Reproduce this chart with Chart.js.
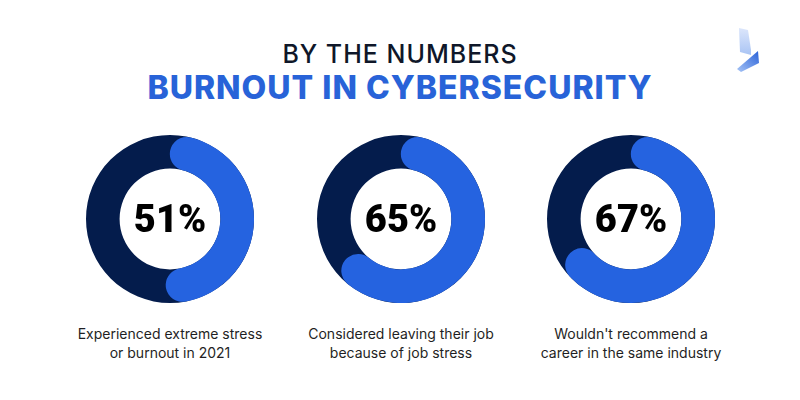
<!DOCTYPE html>
<html>
<head>
<meta charset="utf-8">
<script src="https://cdn.jsdelivr.net/npm/chart.js@4.4.1/dist/chart.umd.min.js"></script>
<style>
  body { margin: 0; background: #fff; }
  #page { position: relative; width: 800px; height: 400px; overflow: hidden; background: #fff; font-family: Inter, "Noto Sans", sans-serif; }
  .title1 { position: absolute; left: 0; width: 800px; top: 42px; text-align: center; font-size: 25px; line-height: 25px; font-weight: 500; color: #0f1729; letter-spacing: 1px; }
  .title2 { position: absolute; left: 0; width: 800px; top: 72px; text-align: center; font-size: 32px; line-height: 32px; font-weight: 800; color: #2863d8; letter-spacing: 1px; }
  .donut { position: absolute; width: 168px; height: 168px; }
  .pct { position: absolute; left: 0; top: 0; width: 168px; height: 168px; display: flex; align-items: center; justify-content: center; font-family: Roboto, Inter, sans-serif; font-size: 38px; line-height: 38px; font-weight: 900; color: #000; }
  .cap { position: absolute; width: 240px; text-align: center; font-size: 14px; line-height: 19px; color: #1f1f24; top: 324px; }
  #logo { position: absolute; left: 728px; top: 24px; }
</style>
</head>
<body>
<div id="page">
  <div class="title1">BY THE NUMBERS</div>
  <div class="title2">BURNOUT IN CYBERSECURITY</div>
  <svg id="logo" width="44" height="52" viewBox="0 0 44 52">
    <defs>
      <linearGradient id="g1" x1="0" y1="0" x2="0" y2="1">
        <stop offset="0" stop-color="#dce6fb"/>
        <stop offset="1" stop-color="#a9c4f4"/>
      </linearGradient>
      <linearGradient id="g2" x1="0" y1="1" x2="1" y2="0">
        <stop offset="0" stop-color="#a6c4f6"/>
        <stop offset="1" stop-color="#2a62d8"/>
      </linearGradient>
    </defs>
    <polygon points="11,4 20,6 23,26 23,31 12,28" fill="url(#g1)"/>
    <polygon points="9,45 30,27 31,39 13,48" fill="url(#g2)"/>
  </svg>
</div>
<script>
const percents = [51, 65, 67];
const captions = [
  ["Experienced extreme stress", "or burnout in 2021"],
  ["Considered leaving their job", "because of job stress"],
  ["Wouldn't recommend a", "career in the same industry"]
];
const centersX = [170, 401, 631];
const centerY = 219;

const darkColor = "#041c4c";
const blueColor = "#2563e0";

// full dark ring under the blue arc
const ringBg = {
  id: "ringBg",
  beforeDatasetsDraw(chart) {
    const arc = chart.getDatasetMeta(0).data[0];
    if (!arc) return;
    const ctx = chart.ctx;
    ctx.save();
    ctx.beginPath();
    ctx.arc(arc.x, arc.y, arc.outerRadius, 0, Math.PI * 2);
    ctx.arc(arc.x, arc.y, arc.innerRadius, Math.PI * 2, 0, true);
    ctx.closePath();
    ctx.fillStyle = darkColor;
    ctx.fill();
    ctx.restore();
  }
};

const page = document.querySelector("#page");

percents.forEach((p, i) => {
  const box = document.createElement("div");
  box.className = "donut";
  box.style.left = (centersX[i] - 84) + "px";
  box.style.top = (centerY - 84) + "px";
  const canvas = document.createElement("canvas");
  box.appendChild(canvas);
  const label = document.createElement("div");
  label.className = "pct";
  label.textContent = p + "%";
  box.appendChild(label);
  page.appendChild(box);

  const cap = document.createElement("div");
  cap.className = "cap";
  cap.style.left = (centersX[i] - 120) + "px";
  cap.innerHTML = captions[i].join("<br>");
  page.appendChild(cap);

  new Chart(canvas.getContext("2d"), {
    type: "doughnut",
    data: {
      labels: ["yes", "no"],
      datasets: [{
        data: [p, 100 - p],
        backgroundColor: [blueColor, "rgba(0,0,0,0)"],
        borderWidth: 0,
        borderRadius: [60, 0]
      }]
    },
    options: {
      responsive: true,
      maintainAspectRatio: false,
      animation: false,
      cutout: "60%",
      layout: { padding: 0 },
      plugins: { legend: { display: false }, tooltip: { enabled: false } }
    },
    plugins: [ringBg]
  });
});
</script>
</body>
</html>
